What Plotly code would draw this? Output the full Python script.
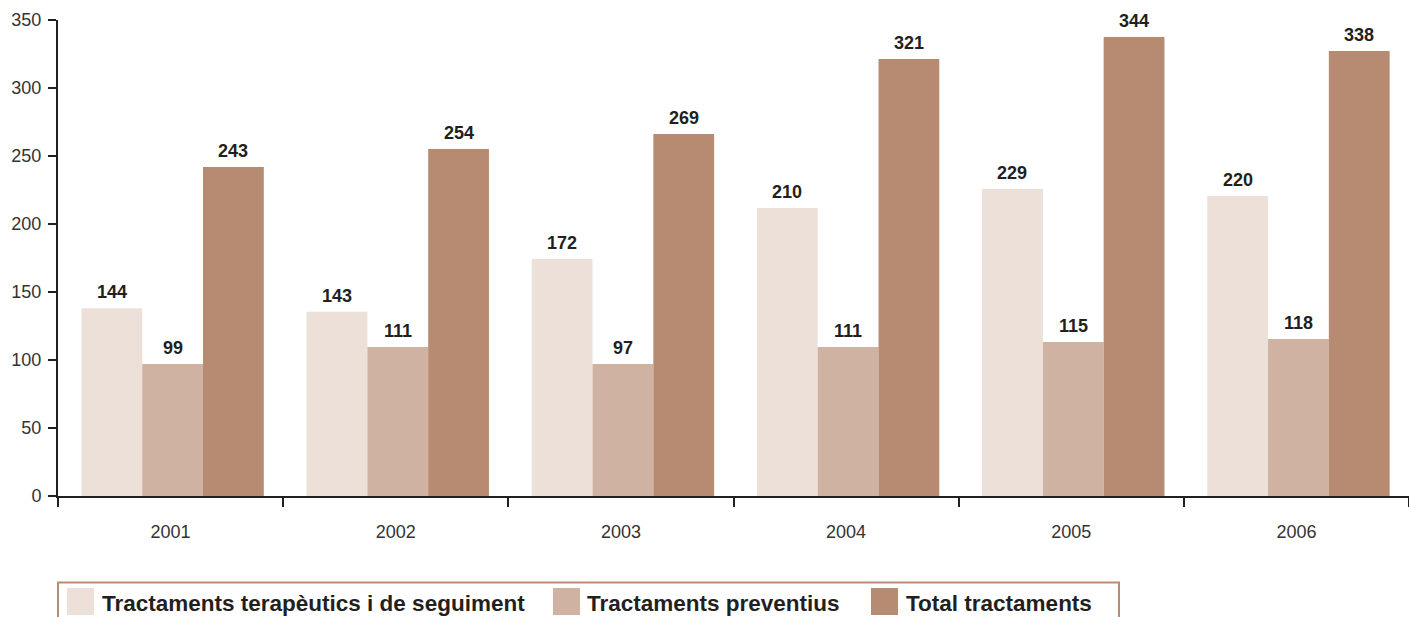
import plotly.graph_objects as go

years = ["2001", "2002", "2003", "2004", "2005", "2006"]
series_names = ["Tractaments terapèutics i de seguiment", "Tractaments preventius", "Total tractaments"]
# bar heights as drawn in the picture
terapeutics = [138, 135.5, 174.3, 211.8, 225.7, 220.6]
preventius = [97.1, 109.6, 97.1, 109.6, 113.2, 115.4]
total = [241.9, 255.1, 266.2, 321.3, 337.5, 327.2]
# value labels as printed
terapeutics_lbl = ["144", "143", "172", "210", "229", "220"]
preventius_lbl = ["99", "111", "97", "111", "115", "118"]
total_lbl = ["243", "254", "269", "321", "344", "338"]
colors = ["#ece0d8", "#cfb2a1", "#b78b71"]
y_ticks = [0, 50, 100, 150, 200, 250, 300, 350]

W, H = 1409, 617
L, T, B = 58, 20, 121
pw, ph = W - L, H - T - B

def px(x):
    return (x - L) / pw

def py(y):
    return (H - B - y) / ph

fig = go.Figure()
values = [terapeutics, preventius, total]
labels = [terapeutics_lbl, preventius_lbl, total_lbl]
bargap = 0.19
bw = (1 - bargap) / 3
shift = 0.009
for k in range(3):
    fig.add_trace(go.Bar(x=years, y=values[k], name=series_names[k],
                         width=bw, offset=-1.5 * bw + k * bw + shift,
                         marker=dict(color=colors[k], line=dict(width=0)),
                         showlegend=False, hoverinfo="skip"))

annotations = []
for k in range(3):
    for i in range(len(years)):
        annotations.append(dict(x=i + (k - 1) * bw + shift, y=values[k][i], xref="x", yref="y",
                                text="<b>" + labels[k][i] + "</b>", showarrow=False,
                                yanchor="bottom", yshift=4,
                                font=dict(size=18, color="#231f20", family="Liberation Sans, Arial")))

# custom legend
shapes = [dict(type="rect", xref="paper", yref="paper", x0=px(58), x1=px(1119), y0=py(640), y1=py(582.5),
               line=dict(color="#b98d73", width=2), fillcolor="rgba(0,0,0,0)", layer="above")]
leg_sw = [(67, 94), (553, 580), (871, 898)]
leg_tx = [100, 585, 904]
for k in range(3):
    shapes.append(dict(type="rect", xref="paper", yref="paper", x0=px(leg_sw[k][0]), x1=px(leg_sw[k][1]),
                       y0=py(615), y1=py(588), line=dict(width=0), fillcolor=colors[k], layer="above"))
    annotations.append(dict(x=px(leg_tx[k]), y=py(603), xref="paper", yref="paper", xanchor="left",
                            yanchor="middle", showarrow=False, text="<b>" + series_names[k] + "</b>",
                            font=dict(size=22.5, color="#231f20", family="Liberation Sans, Arial")))

fig.update_layout(
    width=W, height=H, margin=dict(l=L, r=0, t=T, b=B),
    plot_bgcolor="white", paper_bgcolor="white",
    barmode="group", bargap=bargap, bargroupgap=0,
    annotations=annotations, shapes=shapes,
    font=dict(family="Liberation Sans, Arial", color="#333333", size=18),
)
fig.update_xaxes(type="category", range=[-0.5, 5.5], showline=True, linecolor="#231f20", linewidth=2,
                 ticks="outside", tickson="boundaries", ticklen=9, tickwidth=2, tickcolor="#231f20",
                 ticklabelstandoff=18, tickfont=dict(size=18, color="#333333"), showgrid=False,
                 zeroline=False)
fig.update_yaxes(range=[0, 350], tickvals=y_ticks, showline=True, linecolor="#231f20", linewidth=2,
                 ticks="outside", ticklen=8, tickwidth=2, tickcolor="#231f20", ticklabelstandoff=3,
                 tickfont=dict(size=18, color="#333333"), showgrid=False, zeroline=False)

fig.write_html("out.html", config={"displayModeBar": False},
               post_script="document.body.style.margin='0';document.body.style.padding='0';"
                           "document.body.style.overflow='hidden';")
